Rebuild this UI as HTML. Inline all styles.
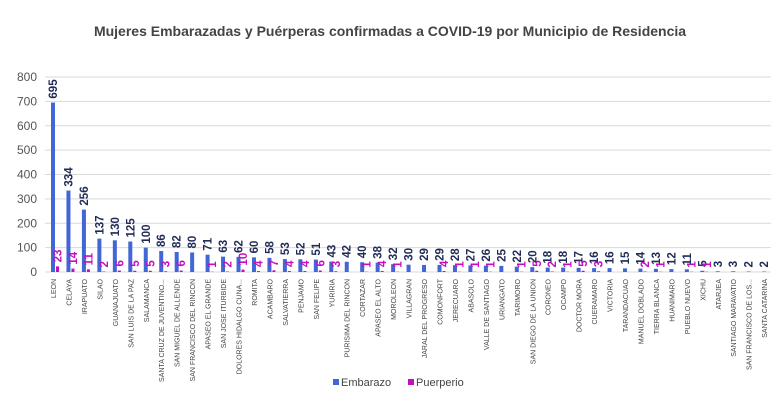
<!DOCTYPE html>
<html><head><meta charset="utf-8"><style>
html,body{margin:0;padding:0;background:#fff;width:779px;height:404px;overflow:hidden}
svg{display:block;font-family:"Liberation Sans",sans-serif}
</style></head><body>
<svg id="c" width="779" height="404" xmlns="http://www.w3.org/2000/svg">
<text x="390" y="36" text-anchor="middle" font-size="14" font-weight="bold" fill="#444">Mujeres Embarazadas y Puérperas confirmadas a COVID-19 por Municipio de Residencia</text>
<rect x="333" y="379" width="6" height="6" fill="#4166d5"/>
<text x="341" y="386" font-size="11" fill="#444">Embarazo</text>
<rect x="408" y="379" width="6" height="6" fill="#c010c0"/>
<text x="416" y="386" font-size="11" fill="#444">Puerperio</text>
</svg>
<script>
var d=[["LEON",695,23],["CELAYA",334,14],["IRAPUATO",256,11],["SILAO",137,2],["GUANAJUATO",130,6],["SAN LUIS DE LA PAZ",125,5],["SALAMANCA",100,5],["SANTA CRUZ DE JUVENTINO...",86,3],["SAN MIGUEL DE ALLENDE",82,6],["SAN FRANCISCO DEL RINCON",80,0],["APASEO EL GRANDE",71,1],["SAN JOSE ITURBIDE",63,2],["DOLORES HIDALGO CUNA...",62,10],["ROMITA",60,4],["ACAMBARO",58,7],["SALVATIERRA",53,4],["PENJAMO",52,4],["SAN FELIPE",51,6],["YURIRIA",43,3],["PURISIMA DEL RINCON",42,0],["CORTAZAR",40,1],["APASEO EL ALTO",38,4],["MOROLEON",32,1],["VILLAGRAN",30,0],["JARAL DEL PROGRESO",29,0],["COMONFORT",29,4],["JERECUARO",28,1],["ABASOLO",27,1],["VALLE DE SANTIAGO",26,1],["URIANGATO",25,0],["TARIMORO",22,1],["SAN DIEGO DE LA UNION",20,5],["CORONEO",18,2],["OCAMPO",18,1],["DOCTOR MORA",17,5],["CUERAMARO",16,3],["VICTORIA",16,0],["TARANDACUAO",15,0],["MANUEL DOBLADO",14,2],["TIERRA BLANCA",13,1],["HUANIMARO",12,0],["PUEBLO NUEVO",11,1],["XICHU",5,1],["ATARJEA",3,0],["SANTIAGO MARAVATIO",3,0],["SAN FRANCISCO DE LOS...",2,0],["SANTA CATARINA",2,0]];
var s=document.getElementById('c'),h='';
var y0=272,k=195/800;
for(var g=0;g<=800;g+=100){var y=y0-g*k;h+='<line x1="45" x2="771" y1="'+y+'" y2="'+y+'" stroke="#d9d9d9" stroke-width="1"/>';h+='<text x="37" y="'+(y+4)+'" text-anchor="end" font-size="12" fill="#555">'+g+'</text>';}
d.forEach(function(r,i){var c=53+15.46*i;var b=r[1]*k,m=r[2]*k;
h+='<rect x="'+(c-2)+'" y="'+(y0-b)+'" width="4" height="'+b+'" fill="#4166d5"/>';
if(r[2])h+='<rect x="'+(c+3)+'" y="'+(y0-m)+'" width="3" height="'+m+'" fill="#c010c0"/>';
h+='<text transform="translate('+(c+4)+','+(y0-b-4)+') rotate(-90)" font-size="11.5" font-weight="bold" fill="#1f2a56">'+r[1]+'</text>';
if(r[2])h+='<text transform="translate('+(c+8.5)+','+(y0-m-4)+') rotate(-90)" font-size="11.5" font-weight="bold" fill="#c010c0">'+r[2]+'</text>';
h+='<text transform="translate('+(c+3)+',279) rotate(-90)" text-anchor="end" font-size="7" fill="#444">'+r[0]+'</text>';
});
s.insertAdjacentHTML('beforeend',h);
</script>
</body></html>
